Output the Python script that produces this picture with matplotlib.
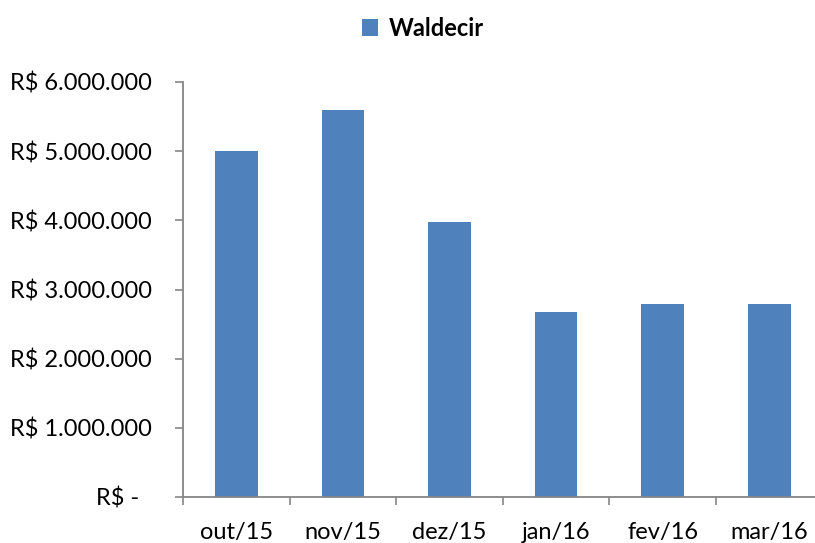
import matplotlib
matplotlib.use("Agg")
import matplotlib.pyplot as plt
from matplotlib.patches import Patch

categories = ["out/15", "nov/15", "dez/15", "jan/16", "fev/16", "mar/16"]
values = [5000000, 5590000, 3970000, 2670000, 2790000, 2785000]
series_name = "Waldecir"
yticks = [0, 1000000, 2000000, 3000000, 4000000, 5000000, 6000000]
ytick_labels = ["R$ -  ", "R$ 1.000.000", "R$ 2.000.000", "R$ 3.000.000",
                "R$ 4.000.000", "R$ 5.000.000", "R$ 6.000.000"]

plt.rcParams['font.family'] = ['Lato', 'DejaVu Sans']
FS = 17
bar_color = "#4F81BD"
axis_color = "#868686"

fig = plt.figure(figsize=(8.15, 5.43), dpi=100)
ax = fig.add_axes([183/815, 1-497/543, (822.6-183)/815, (497-82)/543])

x = list(range(len(categories)))
ax.bar(x, values, width=0.4, color=bar_color, edgecolor="none", zorder=2)

ax.set_xlim(-0.5, len(categories)-0.5)
ax.set_ylim(0, 6000000)
ax.set_yticks(yticks)
ax.set_yticklabels(ytick_labels, fontsize=FS)
ax.set_xticks(x)
ax.set_xticklabels(categories, fontsize=FS)
ax.set_xticks([i-0.5 for i in range(len(categories)+1)], minor=True)

ax.tick_params(axis='x', which='major', length=0, pad=18)
ax.tick_params(axis='x', which='minor', length=6, width=1.2, color=axis_color, direction='out')
ax.tick_params(axis='y', length=6, width=1.2, color=axis_color, direction='out', pad=16.5)

for s in ["top", "right"]:
    ax.spines[s].set_visible(False)
for s in ["left", "bottom"]:
    ax.spines[s].set_color(axis_color)
    ax.spines[s].set_linewidth(1.3)

handle = Patch(facecolor=bar_color, edgecolor="none")
leg = fig.legend([handle], [series_name], loc="center", bbox_to_anchor=(423/815, 1-28/543),
                 frameon=False, handlelength=0.7, handleheight=0.7, handletextpad=0.45,
                 prop={'weight': 'bold', 'size': FS})

fig.savefig("out.png", dpi=100)
